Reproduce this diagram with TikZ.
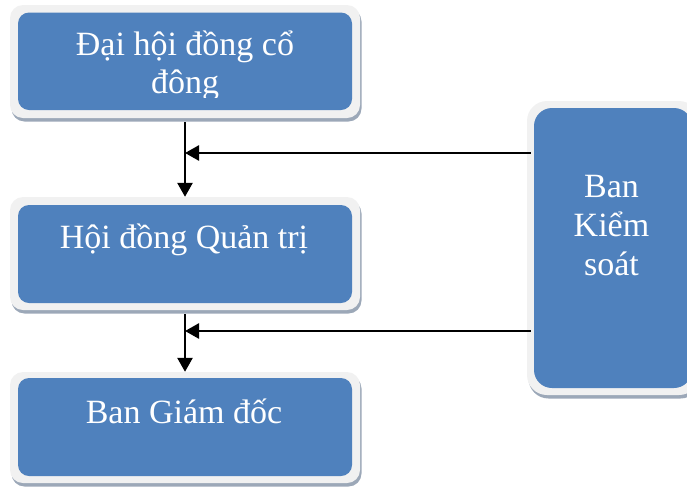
\documentclass[tikz,border=0pt]{standalone}
\usepackage{fontspec}
\setmainfont{Liberation Serif}
\usetikzlibrary{arrows.meta,shadows}
\definecolor{boxblue}{HTML}{4F81BD}
\definecolor{framegray}{HTML}{F1F1F1}
\definecolor{shadowgray}{HTML}{9CA8B8}
\tikzset{
  frame/.style={fill=framegray, rounded corners=13pt, inner sep=0pt,
    drop shadow={shadow xshift=1.5pt, shadow yshift=-3.5pt, fill=shadowgray, opacity=1}},
  bluebox/.style={fill=boxblue, rounded corners=11pt, inner sep=0pt},
  lbl/.style={text=white, inner sep=0pt, font=\fontsize{34}{39}\selectfont},
  conn/.style={line width=2.6pt, -{Triangle[length=14pt, width=15pt]}}
}
\begin{document}
\begin{tikzpicture}[x=1pt,y=-1pt]
\useasboundingbox (0,0) rectangle (687,491);
\clip (0,0) rectangle (687,491);
\coordinate (j1) at (185,153);
\coordinate (j2) at (185,331);
% frames
\node[frame, minimum width=350pt, minimum height=113pt] (f1) at (185,61.5) {};
\node[frame, minimum width=350pt, minimum height=113pt] (f2) at (185,253.5) {};
\node[frame, minimum width=350pt, minimum height=111pt] (f3) at (185,427.5) {};
\node[frame, rounded corners=20pt, minimum width=172pt, minimum height=294pt] (fr) at (613,248) {};
% blue boxes
\node[bluebox, minimum width=334pt, minimum height=97.5pt] (b1) at (185,61.25) {};
\node[bluebox, minimum width=334pt, minimum height=98pt] (b2) at (185,254) {};
\node[bluebox, minimum width=334pt, minimum height=98pt] (b3) at (185,427) {};
\node[bluebox, rounded corners=18pt, minimum width=158pt, minimum height=280pt] (br) at (613,248) {};
% texts
\begin{scope}
\clip (0,0) rectangle (687,97);
\node[lbl, anchor=base] (t1a) at (185,55) {Đại hội đồng cổ};
\node[lbl, anchor=base] (t1b) at (185,93) {đông};
\end{scope}
\node[lbl, anchor=base] (t2) at (184,248) {Hội đồng Quản trị};
\node[lbl, anchor=base] (t3) at (184,423) {Ban Giám đốc};
\node[lbl, anchor=base] (tr1) at (611.5,197) {Ban};
\node[lbl, anchor=base] (tr2) at (611.5,236) {Kiểm};
\node[lbl, anchor=base] (tr3) at (611.5,275) {soát};
% connectors
\draw[conn] (f1.south) ++(0,4) -- (f2.north);
\draw[conn] (f2.south) ++(0,4) -- (f3.north);
\draw[conn] (fr.west |- j1) ++(4,0) -- (j1);
\draw[conn] (fr.west |- j2) ++(4,0) -- (j2);
\end{tikzpicture}
\end{document}
